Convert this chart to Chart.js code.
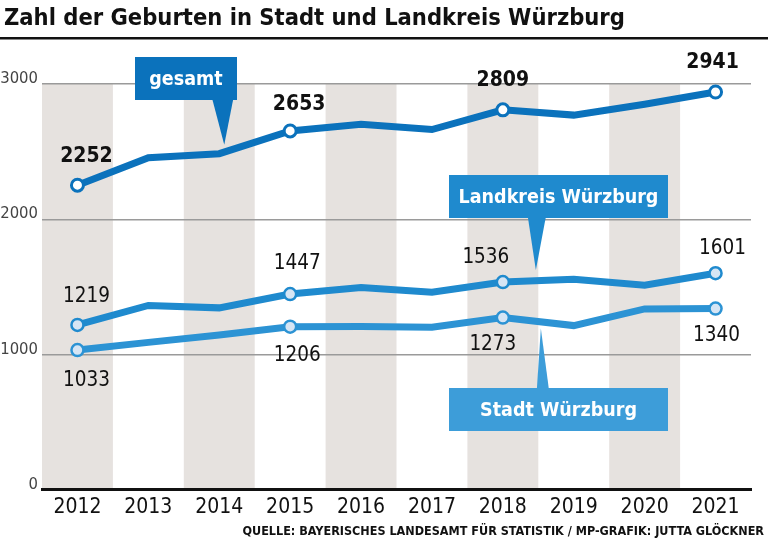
<!DOCTYPE html>
<html>
<head>
<meta charset="utf-8">
<script src="https://cdn.jsdelivr.net/npm/chart.js@4/dist/chart.umd.min.js"></script>
<style>
  html, body { margin:0; padding:0; background:#fff; }
  #wrap { width:768px; height:541px; position:relative; }
</style>
</head>
<body>
<div id="wrap"><canvas id="chart" width="768" height="541"></canvas></div>
<script>
var years = ['2012','2013','2014','2015','2016','2017','2018','2019','2020','2021']
var gesamt    = [2252, 2455, 2485, 2653, 2703, 2663, 2809, 2770, 2850, 2941]
var landkreis = [1219, 1363, 1345, 1447, 1496, 1461, 1536, 1556, 1513, 1601]
var stadt     = [1033, 1090, 1145, 1206, 1207, 1202, 1273, 1214, 1337, 1340]
var yTicks = [0, 1000, 2000, 3000]
var labelled = [0, 3, 6, 9] // years that get a value label

var FONT = "'DejaVu Sans Condensed','Liberation Sans Narrow',sans-serif"

var dark = '#0b72bc'
var mid = '#1f8ace'
var light = '#2c93d4'
var lightBox = '#3d9dd9'

function pointR(r){
    return function(c){ return labelled.indexOf(c.dataIndex) >= 0 ? r : 0 }
}

var deco = {
    id:'deco',
    beforeDraw:function(chart){
        var ctx = chart.ctx, a = chart.chartArea, x = chart.scales.x
        ctx.save()
        ctx.fillStyle = '#fff'
        ctx.fillRect(0,0,chart.width,chart.height)
        // shaded bands for every second year
        var w = x.getPixelForValue(1) - x.getPixelForValue(0)
        ctx.fillStyle = '#e6e2df'
        for (var i = 0; i < years.length; i += 2){
            var cx = x.getPixelForValue(i)
            ctx.fillRect(cx - w/2, a.top, w, a.bottom - a.top)
        }
        // title
        ctx.fillStyle = '#111'
        ctx.font = "bold 23.5px " + FONT
        ctx.textBaseline = 'alphabetic'
        ctx.fillText('Zahl der Geburten in Stadt und Landkreis Würzburg', 4, 25)
        ctx.fillRect(0, 37, chart.width, 2.5)
        // source
        ctx.font = "bold 12.5px " + FONT
        ctx.textAlign = 'right'
        ctx.fillText('QUELLE: BAYERISCHES LANDESAMT FÜR STATISTIK / MP-GRAFIK: JUTTA GLÖCKNER', 764, 535)
        ctx.restore()
    },
    afterDraw:function(chart){
        var ctx = chart.ctx, x = chart.scales.x, y = chart.scales.y
        ctx.save()
        // y tick labels, sitting on top of the grid lines
        ctx.fillStyle = '#444'
        ctx.font = "16.5px " + FONT
        ctx.textAlign = 'right'
        ctx.textBaseline = 'alphabetic'
        yTicks.forEach(function(v){
            ctx.fillText(String(v), 38, y.getPixelForValue(v) - 1)
        })

        // value labels
        ctx.textAlign = 'center'
        ctx.textBaseline = 'middle'
        ctx.fillStyle = '#111'
        var gOff = [[9,-29],[9,-26],[0,-29],[-3,-29]]
        var lOff = [[9,-28],[7,-30],[-17,-24],[7,-25]]
        var sOff = [[9,31],[7,29],[-10,27],[1,27]]
        labelled.forEach(function(idx,k){
            var px = x.getPixelForValue(idx)
            ctx.font = "bold 21px " + FONT
            ctx.fillText(String(gesamt[idx]), px + gOff[k][0], y.getPixelForValue(gesamt[idx]) + gOff[k][1])
            ctx.font = "20.5px " + FONT
            ctx.fillText(String(landkreis[idx]), px + lOff[k][0], y.getPixelForValue(landkreis[idx]) + lOff[k][1])
            ctx.fillText(String(stadt[idx]), px + sOff[k][0], y.getPixelForValue(stadt[idx]) + sOff[k][1])
        })

        // callouts
        function callout(text, color, bx, by, bw, bh, baseL, baseR, baseY, tipX, tipY){
            ctx.fillStyle = color
            ctx.fillRect(bx, by, bw, bh)
            ctx.beginPath()
            ctx.moveTo(baseL, baseY)
            ctx.lineTo(baseR, baseY)
            ctx.lineTo(tipX, tipY)
            ctx.closePath()
            ctx.fill()
            ctx.fillStyle = '#fff'
            ctx.font = "bold 19.5px " + FONT
            ctx.textAlign = 'center'
            ctx.textBaseline = 'middle'
            ctx.fillText(text, bx + bw/2, by + bh/2 + 1)
        }
        var t1x = x.getPixelForValue(2) + 5
        callout('gesamt', dark, 135, 57, 102, 43, t1x - 12, t1x + 9, 99, t1x, y.getPixelForValue(gesamt[2]) - 9)
        var t2x = x.getPixelForValue(6) + 33
        callout('Landkreis Würzburg', mid, 449, 175, 219, 43, t2x - 8, t2x + 10, 217, t2x, y.getPixelForValue(landkreis[6]) - 12)
        var t3x = x.getPixelForValue(6) + 38
        callout('Stadt Würzburg', lightBox, 449, 388, 219, 43, t3x - 4, t3x + 8, 389, t3x, y.getPixelForValue(stadt[6]) + 11)
        ctx.restore()
    }
}

var chart = new Chart(document.getElementById('chart').getContext('2d'),{
    type:'line',
    data:{
        labels:years,
        datasets:[
            {
                label:'Stadt Würzburg',
                data:stadt,
                borderColor:light,
                borderWidth:7,
                pointBorderColor:light,
                pointBorderWidth:2.5,
                pointRadius:pointR(6),
                pointBackgroundColor:'#d6e5f4',
                tension:0
            },
            {
                label:'Landkreis Würzburg',
                data:landkreis,
                borderColor:mid,
                borderWidth:7,
                pointBorderColor:mid,
                pointBorderWidth:2.5,
                pointRadius:pointR(6),
                pointBackgroundColor:'#d6e5f4',
                tension:0
            },
            {
                label:'gesamt',
                data:gesamt,
                borderColor:dark,
                borderWidth:7,
                pointBorderColor:dark,
                pointBorderWidth:3,
                pointRadius:pointR(6),
                pointBackgroundColor:'#fff',
                tension:0
            }
        ]
    },
    options:{
        responsive:false,
        animation:false,
        events:[],
        layout:{ padding:{ top:84, left:42, right:17, bottom:16 } },
        plugins:{ legend:{ display:false }, tooltip:{ enabled:false } },
        scales:{
            x:{
                offset:true,
                grid:{ display:false, drawTicks:false },
                border:{ display:true, color:'#111', width:3 },
                ticks:{ color:'#111', padding:5, font:{ family:FONT, size:21 } }
            },
            y:{
                min:0, max:3000,
                afterBuildTicks:function(s){ s.ticks = yTicks.map(function(v){ return {value:v} }) },
                grid:{ color:'#9a9a9a', lineWidth:1.5, drawTicks:false },
                border:{ display:false },
                ticks:{ display:false }
            }
        }
    },
    plugins:[deco]
})
</script>
</body>
</html>
